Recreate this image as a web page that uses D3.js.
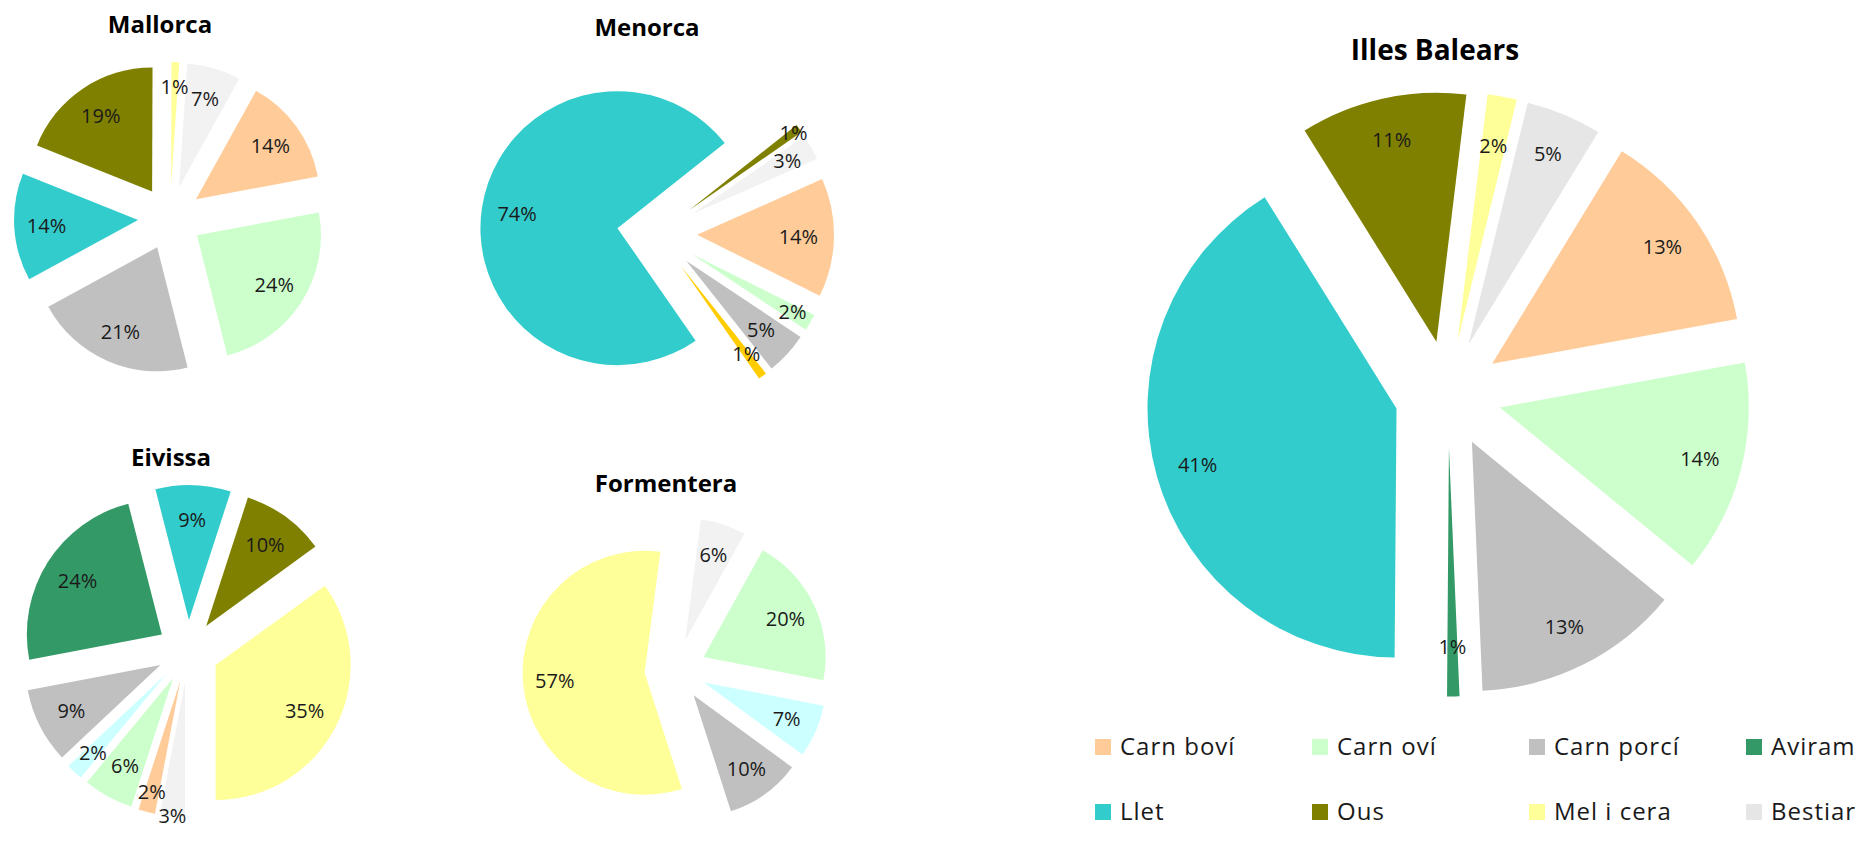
<!DOCTYPE html>
<html>
<head>
<meta charset="utf-8">
<script src="https://cdn.jsdelivr.net/npm/d3@7"></script>
<style>
    body { margin: 0; background: #ffffff; }
    svg { display: block; font-family: "Open Sans", "Noto Sans", sans-serif; }
</style>
</head>
<body>
<div id="chart"></div>
<script>
"use strict";

// categories in drawing order (clockwise), two of them are not in the legend
const categories = ["Carn boví", "Carn oví", "Cabrum", "Carn porcí", "Aviram", "Conill", "Llet", "Ous", "Mel i cera", "Bestiar"];
const legendCategories = ["Carn boví", "Carn oví", "Carn porcí", "Aviram", "Llet", "Ous", "Mel i cera", "Bestiar"];

// shares (%) per island
const mallorca = [14, 24, 0, 21, 0, 0, 14, 19, 1, 7];
const menorca = [14, 2, 0, 5, 0, 1, 74, 1, 0, 3];
const eivissa = [2, 6, 2, 9, 24, 0, 9, 10, 35, 3];
const formentera = [0, 20, 7, 10, 0, 0, 0, 0, 57, 6];
const illesBalears = [13.4, 13.8, 0, 13.4, 0.8, 0, 41.0, 10.8, 1.9, 4.9];

const colors = {
    "Carn boví": "#ffcc99",
    "Carn oví": "#ccffcc",
    "Cabrum": "#ccffff",
    "Carn porcí": "#c0c0c0",
    "Aviram": "#339966",
    "Conill": "#ffcc00",
    "Llet": "#33cccc",
    "Ous": "#808000",
    "Mel i cera": "#ffff99",
    "Bestiar": "#e6e6e6"
};

const width = 1863,
    height = 849;

// layout of each pie: centre, radius, explode offset, start angle (deg, clockwise from top)
const charts = [
    {title: "Mallorca", values: mallorca, cx: 170, cy: 218, r: 124, explode: 32, start: 29, tx: 160, ty: 33, size: 24, labelAt: 0.74, light: true},
    {title: "Menorca", values: menorca, cx: 657, cy: 234, r: 137, explode: 40, start: 66, tx: 647, ty: 36, size: 24, labelAt: 0.74, light: true},
    {title: "Eivissa", values: eivissa, cx: 188, cy: 651, r: 135, explode: 31, start: 190.8, tx: 171, ty: 466, size: 24, labelAt: 0.74, light: true},
    {title: "Formentera", values: formentera, cx: 675.5, cy: 670, r: 122, explode: 31, start: 29, tx: 666, ty: 492, size: 24, labelAt: 0.74, light: true},
    {title: "Illes Balears", values: illesBalears, cx: 1448, cy: 394, r: 249, explode: 53.5, start: 31.4, tx: 1435, ty: 60, size: 28, labelAt: 0.83, light: false}
];

const svg = d3.select("#chart").append("svg")
    .attr("width", width)
    .attr("height", height);

svg.append("rect")
    .attr("width", width)
    .attr("height", height)
    .attr("fill", "#ffffff");

const rad = Math.PI / 180;

charts.forEach((c) => {
    const pie = d3.pie()
        .sort(null)
        .value((d) => d.value)
        .startAngle(c.start * rad)
        .endAngle(c.start * rad + 2 * Math.PI);

    const arc = d3.arc()
        .innerRadius(0)
        .outerRadius(c.r);

    const data = pie(categories.map((name, i) => ({name: name, value: c.values[i]})))
        .filter((d) => d.data.value > 0);

    const g = svg.append("g")
        .attr("transform", `translate(${c.cx},${c.cy})`);

    const mid = (d) => (d.startAngle + d.endAngle) / 2;
    const tip = (d) => [c.explode * Math.sin(mid(d)), -c.explode * Math.cos(mid(d))];

    g.selectAll("path")
        .data(data)
        .enter()
        .append("path")
        .attr("transform", (d) => `translate(${tip(d)[0]},${tip(d)[1]})`)
        .attr("d", arc)
        .attr("fill", (d) => (c.light && d.data.name === "Bestiar") ? "#f2f2f2" : colors[d.data.name]);

    // big slices first, then the small ones, pushed outwards when they collide
    const placed = [];
    const small = (d) => d.data.value < 4;
    const order = data.filter((d) => !small(d))
        .concat(data.filter(small).sort((a, b) => (mid(b) % (2 * Math.PI)) - (mid(a) % (2 * Math.PI))));

    order.forEach((d) => {
        const t = g.append("text")
            .attr("text-anchor", "middle")
            .attr("dy", "0.36em")
            .attr("fill", "#1a1a1a")
            .style("font-size", "20px")
            .text(Math.round(d.data.value) + "%");
        const w = t.node().getComputedTextLength();
        const a = mid(d);
        let f = small(d) ? 0.8 : c.labelAt, x, y;
        const pos = () => {
            x = tip(d)[0] + f * c.r * Math.sin(a);
            y = tip(d)[1] - f * c.r * Math.cos(a);
        };
        pos();
        while (small(d) && f < 1.3 && placed.some((p) => Math.abs(p.x - x) < (p.w + w) / 2 + 2 && Math.abs(p.y - y) < 24)) {
            f += 0.05;
            pos();
        }
        placed.push({x: x, y: y, w: w});
        t.attr("x", x).attr("y", y);
    });

    svg.append("text")
        .attr("x", c.tx)
        .attr("y", c.ty)
        .attr("text-anchor", "middle")
        .attr("fill", "#000000")
        .style("font-size", c.size + "px")
        .style("font-weight", "bold")
        .text(c.title);
});

// legend, 4 columns by 2 rows
const legendX = d3.scaleBand()
    .domain(d3.range(4))
    .range([1095, 1963]);

const legend = svg.append("g");

const item = legend.selectAll("g")
    .data(legendCategories)
    .enter()
    .append("g")
    .attr("transform", (d, i) => `translate(${legendX(i % 4)},${i < 4 ? 739 : 804})`);

item.append("rect")
    .attr("width", 16)
    .attr("height", 16)
    .attr("fill", (d) => colors[d]);

item.append("text")
    .attr("x", 25)
    .attr("y", 16)
    .attr("fill", "#1a1a1a")
    .style("font-size", "24px")
    .style("letter-spacing", "1px")
    .text((d) => d);
</script>
</body>
</html>
